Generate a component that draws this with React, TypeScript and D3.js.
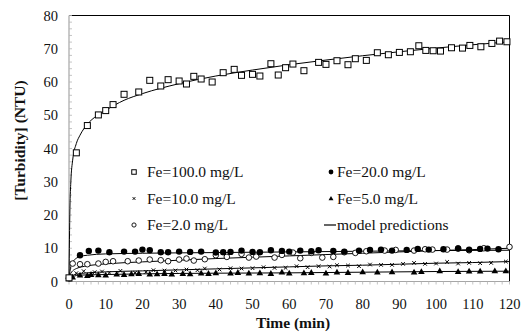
import React from "react";
import * as d3 from "d3";

// measured points, [time (min), turbidity (NTU)]
const fe100: [number, number][] = [
  [0, 1.1], [2, 38.7], [5, 46.9], [8, 50.1], [10, 51.4], [12, 53.2], [15, 56.3], [19, 57], [22, 60.5],
  [25, 58.8], [27, 60.7], [30, 60.3], [32, 59.4], [34, 61.7], [36, 60.9], [39, 60], [42, 62.8],
  [45, 63.8], [47, 62], [50, 62.3], [52, 61.8], [55, 65.5], [57, 62.1], [59, 64.3], [61, 65.4],
  [64, 63.4], [68, 65.9], [70, 65.3], [73, 66.4], [76, 65.2], [78, 67], [81, 66.5], [84, 68.8],
  [87, 68.2], [90, 68.9], [93, 69.1], [95.3, 70.9], [97.2, 69.5], [99.2, 69.4], [101.2, 69.3],
  [104.2, 70.3], [107.2, 70.2], [109.2, 71], [112.2, 70.6], [115.2, 71.6], [117.3, 72.3], [119.3, 72.1],
];
const fe20: [number, number][] = [
  [0, 1], [3, 7.9], [5.4, 9.2], [8, 9.3], [11, 8.8], [15, 9.0], [18, 9.0], [20, 9.6], [22, 9.4],
  [25, 8.8], [27, 8.8], [30, 9.0], [33, 8.9], [36, 9.0], [40, 8.7], [42, 8.8], [44, 8.9], [47, 9.3],
  [50, 8.9], [52, 8.8], [55, 9.4], [58, 9.2], [60, 9.0], [63, 9.3], [66, 9.1], [68, 9.4], [72, 9.2],
  [75, 9.0], [79, 9.3], [82, 9.5], [85, 9.6], [88, 9.3], [92, 9.5], [95, 9.8], [98, 9.6], [102, 9.7],
  [106, 9.9], [109, 9.6], [112, 9.8], [114, 9.9], [117, 9.7],
];
const fe10: [number, number][] = [
  [0, 1], [2, 2.5], [4, 3.1], [7, 2.8], [9, 3.0], [11, 2.6], [14, 3.2], [18, 2.6], [21, 2.9],
  [23, 3.4], [26, 3.3], [29, 3.3], [32, 3.6], [35, 3.4], [37, 3.9], [41, 3.6], [44, 4.0], [47, 3.9],
  [50, 4.0], [53, 4.3], [56, 4.1], [59, 4.1], [62, 4.6], [65, 4.3], [68, 4.6], [71, 4.5], [73, 4.9],
  [76, 4.8], [79, 4.6], [82, 5.1], [85, 5.0], [88, 5.0], [91, 5.3], [94, 5.6], [97, 5.3], [100, 5.4],
  [103, 5.9], [106, 5.4], [109, 5.6], [112, 5.5], [115, 5.6], [119, 6.0],
];
const fe5: [number, number][] = [
  [0, 0.8], [1, 1.3], [3, 1.9], [5, 1.8], [6, 2.1], [8, 2.0], [10, 1.9], [13, 2.2], [15, 2.1],
  [17, 2.3], [19, 2.4], [22, 2.2], [24, 2.3], [26, 2.4], [28, 2.2], [31, 2.4], [33, 2.3], [36, 2.5],
  [38, 2.4], [40, 2.6], [44, 2.5], [46, 2.7], [49, 2.5], [52, 2.6], [55, 2.4], [58, 2.8], [60, 2.5],
  [64, 2.6], [66, 2.7], [70, 2.5], [73, 2.8], [76, 2.7], [80, 2.9], [84, 2.8], [88, 2.9], [94, 2.8],
  [96, 3.0], [101, 3.2], [106, 3.0], [109, 3.1], [112, 3.1], [116, 3.2], [119, 3.2],
];
const fe2: [number, number][] = [
  [0, 1], [1, 5.4], [3, 5.2], [5, 5.2], [8, 5.4], [10, 5.9], [12, 6.1], [16, 6.1], [19, 6.3],
  [22, 6.6], [25, 6.4], [27, 6.1], [30, 6.6], [32, 6.9], [34, 6.3], [37, 6.7], [40, 7.9], [43, 7.4],
  [47, 8.3], [49, 7.2], [51, 7.5], [56, 7.2], [58, 8.0], [61, 8.7], [63, 7.0], [66, 8.6], [69, 7.2],
  [72, 7.4], [75, 8.8], [78, 8.6], [81, 9.1], [86, 9.3], [89, 9.5], [94, 9.3], [97, 9.7], [99, 9.6],
  [103, 9.6], [106, 10.0], [109, 9.4], [113, 10.0], [120, 10.4],
];

// model prediction curves
const model100: [number, number][] = [
  [0, 1], [0.25, 22], [0.5, 30], [1, 36.5], [2, 41.5], [3, 44], [5, 47.3], [7.5, 49.8], [10, 51.5],
  [15, 54.5], [20, 56.5], [30, 59.5], [40, 61.8], [50, 63.6], [60, 65.2], [70, 66.6], [80, 67.9],
  [90, 69.1], [100, 70.2], [110, 71.2], [120, 72.1],
];
const model20: [number, number][] = [
  [0, 1], [0.5, 4.5], [1, 5.8], [2, 7], [3, 7.5], [5, 7.9], [10, 8.3], [20, 8.5], [40, 8.7],
  [60, 8.9], [80, 9.1], [100, 9.3], [120, 9.4],
];
const model2: [number, number][] = [
  [0, 1], [0.5, 2.5], [1, 3.2], [2, 3.9], [5, 4.7], [10, 5.3], [20, 5.9], [30, 6.4], [40, 6.9],
  [50, 7.3], [60, 7.7], [70, 8.1], [80, 8.5], [90, 8.9], [100, 9.3], [110, 9.6], [120, 10.0],
];
const model10: [number, number][] = [
  [0, 1], [1, 1.8], [2, 2.2], [5, 2.6], [10, 2.9], [20, 3.2], [30, 3.5], [40, 3.8], [50, 4.1],
  [60, 4.4], [70, 4.7], [80, 4.9], [90, 5.2], [100, 5.5], [110, 5.7], [120, 6.0],
];
const model5: [number, number][] = [
  [0, 0.8], [1, 1.4], [2, 1.8], [5, 2.0], [10, 2.1], [20, 2.3], [40, 2.5], [60, 2.6], [80, 2.8],
  [100, 3.0], [120, 3.1],
];

const xTicks = [0, 10, 20, 30, 40, 50, 60, 70, 80, 90, 100, 110, 120];
const yTicks = [0, 10, 20, 30, 40, 50, 60, 70, 80];
const legendLabels = ["Fe=100.0 mg/L", "Fe=20.0 mg/L", "Fe=10.0 mg/L", "Fe=5.0 mg/L", "Fe=2.0 mg/L", "model predictions"];

const W = 522, H = 335;

type Kind = "square" | "dot" | "cross" | "tri" | "ring" | "line";

function Txt(props: { x: number; y: number; size: number; anchor?: string; bold?: boolean; transform?: string; children: React.ReactNode }) {
  return (
    <text
      x={props.x}
      y={props.y}
      dy="0.35em"
      transform={props.transform}
      textAnchor={props.anchor || "start"}
      fill="#111"
      fontSize={props.size}
      fontWeight={props.bold ? "bold" : undefined}
      style={{ fontFamily: "Times New Roman" }}
    >
      {props.children}
    </text>
  );
}

function Marker({ kind, x, y, s = 1 }: { kind: Kind; x: number; y: number; s?: number }) {
  switch (kind) {
    case "square":
      return <rect x={x - 3 * s} y={y - 3 * s} width={6 * s} height={6 * s} fill="#fff" stroke="#000" strokeWidth={1} />;
    case "dot":
      return <circle cx={x} cy={y} r={3.2 * s} fill="#000" />;
    case "ring":
      return <circle cx={x} cy={y} r={2.8 * s} fill="#fff" stroke="#000" strokeWidth={0.9} />;
    case "cross": {
      const d = 1.8 * s;
      return <path d={`M${x - d},${y - d}L${x + d},${y + d}M${x + d},${y - d}L${x - d},${y + d}`} stroke="#000" strokeWidth={1} />;
    }
    case "tri":
      return <path d={`M${x},${y - 3.4 * s}L${x + 3.3 * s},${y + 2.4 * s}L${x - 3.3 * s},${y + 2.4 * s}Z`} fill="#000" />;
    default:
      return <line x1={x - 7} x2={x + 5} y1={y} y2={y} stroke="#000" strokeWidth={1.2} />;
  }
}

export default function App() {
  const x = d3.scaleLinear().domain([0, 120]).range([69, 509.5]);
  const y = d3.scaleLinear().domain([0, 80]).range([281.5, 15.5]);
  const line = d3.line<[number, number]>()
    .x(d => x(d[0]))
    .y(d => y(d[1]))
    .curve(d3.curveMonotoneX);

  const models = [model100, model20, model2, model10, model5];
  const series: { pts: [number, number][]; kind: Kind }[] = [
    { pts: fe5, kind: "tri" },
    { pts: fe10, kind: "cross" },
    { pts: fe2, kind: "ring" },
    { pts: fe20, kind: "dot" },
    { pts: fe100, kind: "square" },
  ];

  const minorX = d3.range(0, 121, 2);
  const minorY = d3.range(0, 81, 2);

  const legendKinds: Kind[] = ["square", "dot", "cross", "tri", "ring", "line"];
  const legendRows = [172, 198.5, 225];

  return (
    <svg width={W} height={H} style={{ position: "absolute", left: 0, top: 0, background: "#fff" }}>
      {/* frame */}
      <line x1={x(0)} x2={x(120)} y1={y(80)} y2={y(80)} stroke="#000" strokeWidth={1} />
      <line x1={x(120)} x2={x(120)} y1={y(80)} y2={y(0)} stroke="#000" strokeWidth={1} />
      {/* y axis, grey with inward minor ticks */}
      <line x1={x(0)} x2={x(0)} y1={y(0)} y2={y(80)} stroke="#a6a6a6" strokeWidth={1.2} />
      {minorY.map(v => (
        <line key={"my" + v} x1={x(0)} x2={x(0) + 3} y1={y(v)} y2={y(v)} stroke="#b5b5b5" strokeWidth={0.8} />
      ))}
      {/* x axis */}
      <line x1={x(0)} x2={x(120)} y1={y(0)} y2={y(0)} stroke="#a6a6a6" strokeWidth={1.2} />
      {minorX.map(v => (
        <line key={"mx" + v} x1={x(v)} x2={x(v)} y1={y(0)} y2={y(0) + 3} stroke="#b5b5b5" strokeWidth={0.8} />
      ))}
      {/* tick labels */}
      {yTicks.map(v => (
        <Txt key={"yt" + v} x={58} y={y(v)} anchor="end" size={14.5}>{v}</Txt>
      ))}
      {xTicks.map(v => (
        <Txt key={"xt" + v} x={x(v)} y={304} anchor="middle" size={14.5}>{v}</Txt>
      ))}
      {/* axis titles */}
      <Txt x={293} y={323} anchor="middle" size={15.5} bold>Time (min)</Txt>
      <Txt x={0} y={0} transform="translate(19.5,140.5) rotate(-90)" anchor="middle" size={15.5} bold>[Turbidity] (NTU)</Txt>
      {/* legend */}
      {legendLabels.map((lab, i) => {
        const col = i % 2;
        const row = Math.floor(i / 2);
        const mx = col === 0 ? 134 : 331;
        const tx = col === 0 ? 147 : 337;
        const ly = legendRows[row];
        return (
          <g key={"l" + i}>
            <Marker kind={legendKinds[i]} x={mx} y={ly} s={0.75} />
            <Txt x={tx} y={ly} size={15.5}>{lab}</Txt>
          </g>
        );
      })}
      {/* model curves */}
      {models.map((m, i) => (
        <path key={"m" + i} d={line(m) || ""} fill="none" stroke="#000" strokeWidth={1} />
      ))}
      {/* data */}
      {series.map((s, i) => (
        <g key={"s" + i}>
          {s.pts.map((p, j) => <Marker key={j} kind={s.kind} x={x(p[0])} y={y(p[1])} />)}
        </g>
      ))}
    </svg>
  );
}
